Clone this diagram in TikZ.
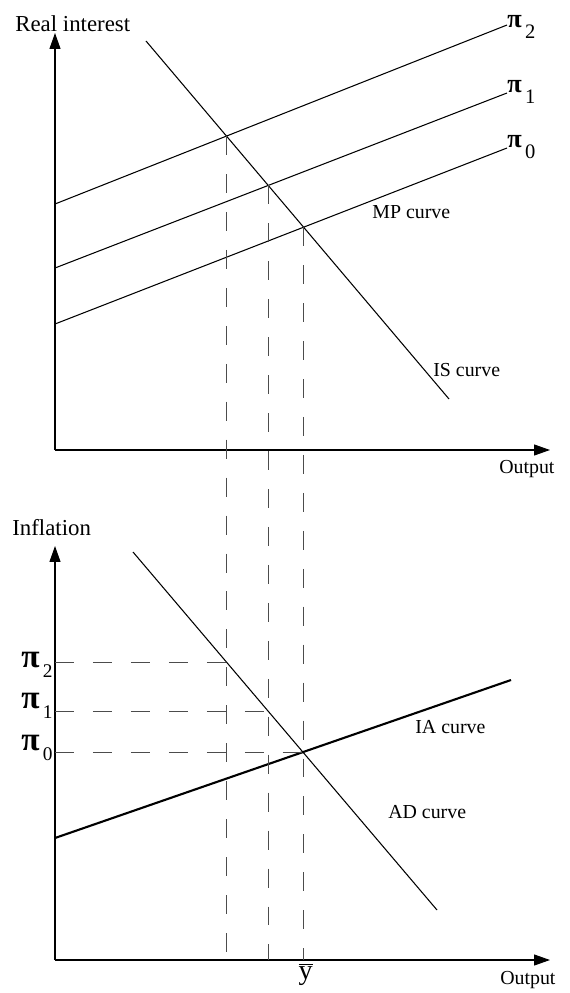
\documentclass[tikz,border=0pt]{standalone}
\usepackage{fontspec}
\setmainfont{Liberation Serif}
\usetikzlibrary{arrows.meta,intersections,calc}

% pi with a lowered index: size of pi, size of index, drop, index
\newcommand{\pilab}[4]{{\bfseries\fontsize{#1}{#1}\selectfont π}\raisebox{-#3}{\fontsize{#2}{#2}\selectfont\,#4}}

\tikzset{
  axis/.style={line width=0.6pt,-{Triangle[length=9pt,width=6.2pt]}},
  curve/.style={line width=0.6pt},
  thickcurve/.style={line width=1.2pt},
  guide/.style={line width=0.6pt,black!70,dash pattern=on 10.8pt off 10.8pt},
  lab/.style={anchor=base west,inner sep=0pt,font=\fontsize{11.3pt}{13pt}\selectfont},
  ttl/.style={anchor=base west,inner sep=0pt,font=\fontsize{13pt}{15pt}\selectfont}
}

\begin{document}
\begin{tikzpicture}[x=0.02cm,y=-0.02cm]
        \useasboundingbox (0,0) rectangle (569,993);
        % upper panel: IS and MP
        \coordinate (o1) at (55,450);
        \coordinate (r1) at (55,33);
        \coordinate (y1) at (550,450);
        \draw[axis] (o1) -- (r1);
        \draw[axis] (o1) -- (y1);
        \node[ttl] (rlab) at (15,32) {Real interest};
        \node[lab] (ylab1) at (499,473) {Output};
        \coordinate (is0) at (146,41);
        \coordinate (is1) at (449,399);
        \draw[curve,name path=isline] (is0) -- (is1);
        \coordinate (m2a) at (55,204); \coordinate (m2b) at (507,25);
        \coordinate (m1a) at (55,268); \coordinate (m1b) at (507,93);
        \coordinate (m0a) at (55,324); \coordinate (m0b) at (507,148);
        \draw[curve,name path=mptwo] (m2a) -- (m2b);
        \draw[curve,name path=mpone] (m1a) -- (m1b);
        \draw[curve,name path=mpzero] (m0a) -- (m0b);
        \node[anchor=base west,inner sep=0pt] (p2) at (507,28) {\pilab{15pt}{11.7pt}{6.2pt}{2}};
        \node[anchor=base west,inner sep=0pt] (p1) at (507,93) {\pilab{15pt}{11.7pt}{6.2pt}{1}};
        \node[anchor=base west,inner sep=0pt] (p0) at (507,148) {\pilab{15pt}{11.7pt}{6.2pt}{0}};
        \node[lab] (lmp) at (372,218) {MP curve};
        \node[lab] (lis) at (433,376) {IS curve};
        \path[name intersections={of=isline and mptwo,by=e2}];
        \path[name intersections={of=isline and mpone,by=e1}];
        \path[name intersections={of=isline and mpzero,by=e0}];

        % lower panel: AD and IA
        \coordinate (o2) at (55,960);
        \coordinate (r2) at (55,546);
        \coordinate (y2) at (550,960);
        \draw[axis] (o2) -- (r2);
        \draw[axis] (o2) -- (y2);
        \node[ttl] (flab) at (12,535) {Inflation};
        \node[lab] (ylab2) at (500,984) {Output};
        \coordinate (ad0) at (133,552);
        \coordinate (ad1) at (437,910);
        \draw[curve,name path=adline] (ad0) -- (ad1);
        \coordinate (ia0) at (55,838);
        \coordinate (ia1) at (511,680);
        \draw[thickcurve] (ia0) -- (ia1);
        \node[lab] (lia) at (415,733) {IA curve};
        \node[lab] (lad) at (388,818) {AD curve};

        % guides between the panels
        \foreach \k in {0,1,2}{\draw[guide] (e\k) -- (e\k |- o2);}
        \path[name path=vtwo] (e2) -- (e2 |- o2);
        \path[name path=vone] (e1) -- (e1 |- o2);
        \path[name path=vzero] (e0) -- (e0 |- o2);
        \path[name intersections={of=vtwo and adline,by=f2}];
        \path[name intersections={of=vone and adline,by=f1}];
        \path[name intersections={of=vzero and adline,by=f0}];
        \draw[guide] (f2 -| o2) -- (f2);
        \draw[guide] (f1 -| o2) -- (f1);
        \draw[guide] (f0 -| o2) -- (f0);
        \node[anchor=base west,inner sep=0pt] (q2) at (21,667) {\pilab{19pt}{11pt}{5.7pt}{2}};
        \node[anchor=base west,inner sep=0pt] (q1) at (21,708) {\pilab{19pt}{11pt}{5.7pt}{1}};
        \node[anchor=base west,inner sep=0pt] (q0) at (21,750) {\pilab{19pt}{11pt}{5.7pt}{0}};
        \node[anchor=north,inner sep=0pt] (ybar) at ($(e0 |- o2)+(2,3)$) {\fontsize{16pt}{18pt}\selectfont$\overline{\hbox{y}}$};
\end{tikzpicture}
\end{document}
